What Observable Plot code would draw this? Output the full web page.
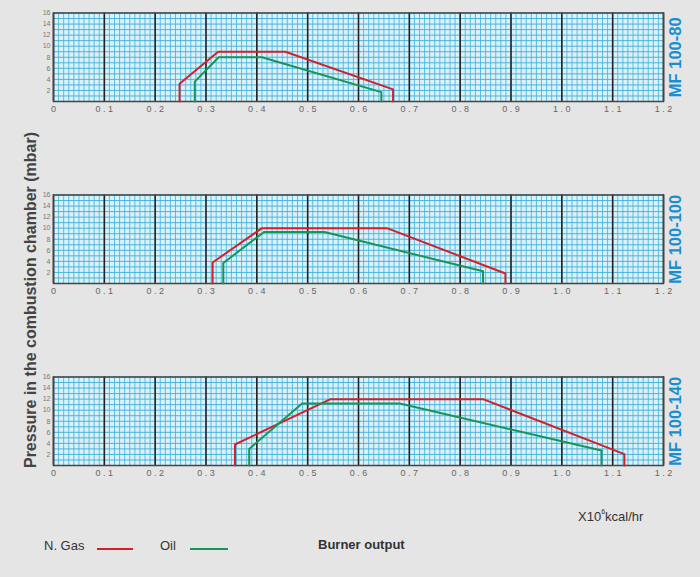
<!DOCTYPE html>
<html>
<head>
<meta charset="utf-8">
<script src="https://cdn.jsdelivr.net/npm/d3@7"></script>
<script src="https://cdn.jsdelivr.net/npm/@observablehq/plot@0.6"></script>
<style>
  html, body { margin: 0; padding: 0; background: #e5e5e5; }
  #wrap { position: relative; width: 700px; height: 577px; overflow: hidden; font-family: "Liberation Sans", Arial, sans-serif; }
  .panel { position: absolute; left: 0; }
  .txt { position: absolute; white-space: nowrap; color: #333; font-size: 13px; }
  #ylab { position: absolute; left: 31px; top: 300px; transform: translate(-50%, -50%) rotate(-90deg); font-weight: bold; font-size: 16px; color: #444; white-space: nowrap; }
</style>
</head>
<body>
<div id="wrap">
  <div id="ylab">Pressure in the combustion chamber (mbar)</div>
  <div class="txt" style="left:578px; top:508px;">X10<sup style="font-size:7px; vertical-align: 7px;">6</sup>kcal/hr</div>
  <div class="txt" style="left:44px; top:538px;">N. Gas</div>
  <div style="position:absolute; left:97px; top:548px; width:36px; height:2px; background:#d0222b;"></div>
  <div class="txt" style="left:160px; top:538px;">Oil</div>
  <div style="position:absolute; left:190px; top:548px; width:38px; height:2px; background:#16955a;"></div>
  <div class="txt" style="left:318px; top:537px; font-weight:bold;">Burner output</div>
</div>
<script>
// ---- data ----
const models = ["MF 100-80", "MF 100-100", "MF 100-140"];

const gas80X  = [0.248, 0.248, 0.324, 0.456, 0.668, 0.668];
const gas80Y  = [0, 3.2, 9, 9, 2.2, 0];
const oil80X  = [0.278, 0.278, 0.325, 0.410, 0.645, 0.645];
const oil80Y  = [0, 3.6, 8, 8, 1.7, 0];

const gas100X = [0.313, 0.313, 0.410, 0.656, 0.889, 0.889];
const gas100Y = [0, 3.8, 10, 10, 1.8, 0];
const oil100X = [0.334, 0.334, 0.414, 0.533, 0.845, 0.845];
const oil100Y = [0, 3.7, 9.3, 9.3, 2.2, 0];

const gas140X = [0.357, 0.357, 0.545, 0.845, 1.123, 1.123];
const gas140Y = [0, 3.8, 12, 12, 2.05, 0];
const oil140X = [0.385, 0.385, 0.489, 0.681, 1.078, 1.078];
const oil140Y = [0, 3.0, 11.2, 11.2, 2.7, 0];

const xTicks = [0, 0.1, 0.2, 0.3, 0.4, 0.5, 0.6, 0.7, 0.8, 0.9, 1.0, 1.1, 1.2];
const xTickLabels = ["0", "0 . 1", "0 . 2", "0 . 3", "0 . 4", "0 . 5", "0 . 6", "0 . 7", "0 . 8", "0 . 9", "1 . 0", "1 . 1", "1 . 2"];
const yTicks = [2, 4, 6, 8, 10, 12, 14, 16];

const series = [
  {gasX: gas80X, gasY: gas80Y, oilX: oil80X, oilY: oil80Y},
  {gasX: gas100X, gasY: gas100Y, oilX: oil100X, oilY: oil100Y},
  {gasX: gas140X, gasY: gas140Y, oilX: oil140X, oilY: oil140Y}
];

const gasColor = "#d0222b";
const oilColor = "#16955a";
const tops = [0, 182, 364.3];

const wrap = document.getElementById("wrap");
const toPts = (xs, ys) => xs.map((x, i) => ({x, y: ys[i]}));

models.forEach((name, i) => {
  const s = series[i];
  const chart = Plot.plot({
    width: 700,
    height: 182,
    marginTop: 12.5,
    marginBottom: 81,
    marginLeft: 53,
    marginRight: 37,
    style: {background: "transparent", fontFamily: "Liberation Sans, Arial, sans-serif"},
    x: {domain: [0, 1.2]},
    y: {domain: [0, 16]},
    marks: [
      Plot.frame({fill: "#dcf0f8", stroke: null}),
      Plot.gridX({ticks: 120, stroke: "#3fb2dc", strokeOpacity: 0.9, strokeWidth: 0.9}),
      Plot.gridY({ticks: 16, stroke: "#3fb2dc", strokeOpacity: 0.95, strokeWidth: 1}),
      Plot.gridX({ticks: xTicks, stroke: "#222", strokeOpacity: 1, strokeWidth: 1.6}),
      Plot.frame({stroke: "#444", strokeWidth: 1.5}),
      Plot.axisX({ticks: xTicks, tickFormat: (d, j) => xTickLabels[j], tickSize: 0, tickPadding: 4, fontSize: 9, fill: "#666", label: null}),
      Plot.axisY({ticks: yTicks, tickSize: 0, tickPadding: 3, fontSize: 7, fill: "#777", label: null}),
      Plot.line(toPts(s.gasX, s.gasY), {x: "x", y: "y", stroke: gasColor, strokeWidth: 2}),
      Plot.line(toPts(s.oilX, s.oilY), {x: "x", y: "y", stroke: oilColor, strokeWidth: 2}),
      Plot.text([name], {text: d => d, frameAnchor: "right", textAnchor: "middle", lineAnchor: "middle", rotate: -90, dx: 12, fontSize: 16.5, fontWeight: "bold", fill: "#1a8fd0"})
    ]
  });
  const div = document.createElement("div");
  div.className = "panel";
  div.style.top = tops[i] + "px";
  div.appendChild(chart);
  wrap.appendChild(div);
});
</script>
</body>
</html>
